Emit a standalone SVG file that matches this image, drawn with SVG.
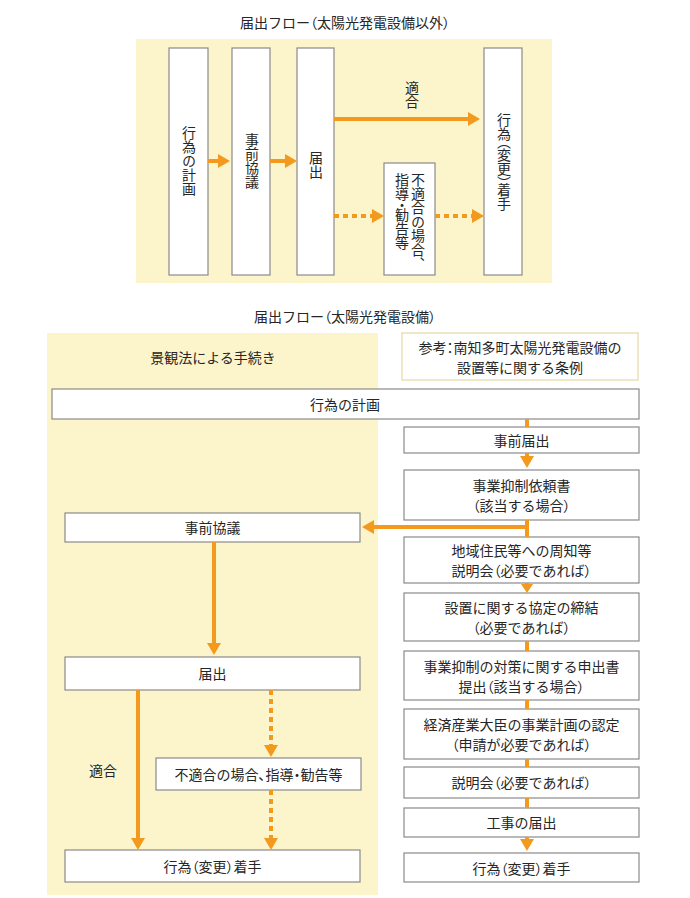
<svg xmlns="http://www.w3.org/2000/svg" width="690" height="898" viewBox="0 0 690 898">
<style>
.panel{fill:#fcf5cb}
.box{fill:#fff;stroke:#8a8a8a;stroke-width:1.2}
.ref{fill:#fff;stroke:#e6d7a6;stroke-width:1.2}
text{font-family:"Noto Sans CJK JP","Noto Sans",sans-serif;font-size:14px;fill:#262626}
.c{text-anchor:middle;dominant-baseline:central}
.v{writing-mode:vertical-rl;text-anchor:middle}
.vs{writing-mode:vertical-rl;text-anchor:start}
.p{font-feature-settings:"palt" 1}
.vp{font-feature-settings:"vpal" 1}
.ln{stroke:#f39a1e;stroke-width:4;fill:none}
.dot{stroke-dasharray:5 4}
</style>
<defs>
<marker id="ah" viewBox="0 0 12 14" markerWidth="12" markerHeight="14" refX="0" refY="7" orient="auto" markerUnits="userSpaceOnUse">
<path d="M0,0 L12,7 L0,14 z" fill="#f39a1e"/>
</marker>
<marker id="as" viewBox="0 0 9 12" markerWidth="9" markerHeight="12" refX="0" refY="6" orient="auto" markerUnits="userSpaceOnUse">
<path d="M0,0 L9,6 L0,12 z" fill="#f39a1e"/>
</marker>
</defs>
<rect width="690" height="898" fill="#fff"/>

<!-- Top section -->
<text class="c" x="345" y="22">届出フロー<tspan class="p">（</tspan>太陽光発電設備以外<tspan class="p">）</tspan></text>
<rect class="panel" x="136" y="39" width="416" height="244"/>

<g id="t-plan"><rect class="box" x="169" y="48" width="39" height="227"/><text class="v" x="189" y="161">行為の計画</text></g>
<g id="t-consult"><rect class="box" x="232" y="48" width="38" height="227"/><text class="v" x="252" y="161">事前協議</text></g>
<g id="t-notify"><rect class="box" x="297" y="48" width="37" height="227"/><text class="v" x="316" y="165">届出</text></g>
<g id="t-noncomp"><rect class="box" x="384" y="163" width="51" height="112"/><text class="vs" x="418" y="173">不適合の場合、</text><text class="vs" x="402" y="173">指導<tspan class="vp">・</tspan>勧告等</text></g>
<g id="t-start"><rect class="box" x="484" y="48" width="38" height="227"/><text class="v" x="504" y="162">行為<tspan class="vp">（</tspan>変更<tspan class="vp">）</tspan>着手</text></g>
<g id="t-label"><text class="v" x="412" y="95">適合</text></g>

<g id="t-connectors">
<path class="ln" d="M208,161 H218" marker-end="url(#ah)"/>
<path class="ln" d="M270,161 H285" marker-end="url(#ah)"/>
<path class="ln" d="M334,119 H468" marker-end="url(#ah)"/>
<path class="ln dot" d="M334,216 H372" marker-end="url(#ah)"/>
<path class="ln dot" d="M435,216 H472" marker-end="url(#ah)"/>
</g>

<!-- Bottom section -->
<text class="c" x="345" y="316">届出フロー<tspan class="p">（</tspan>太陽光発電設備<tspan class="p">）</tspan></text>
<rect class="panel" x="47" y="333" width="331" height="562"/>
<text class="c" x="213" y="357">景観法による手続き</text>

<g id="b-ref"><rect class="ref" x="402" y="333" width="236" height="47"/><text class="c" x="520" y="346.5">参考<tspan class="p">：</tspan>南知多町太陽光発電設備の</text><text class="c" x="520" y="366.5">設置等に関する条例</text></g>
<g id="b-plan"><rect class="box" x="52" y="389" width="587" height="30"/><text class="c" x="345" y="404">行為の計画</text></g>

<g id="r-pre"><rect class="box" x="404" y="427" width="235" height="26"/><text class="c" x="521.5" y="440">事前届出</text></g>
<g id="r-req"><rect class="box" x="404" y="470" width="235" height="50"/><text class="c" x="521.5" y="485">事業抑制依頼書</text><text class="c" x="521.5" y="505"><tspan class="p">（</tspan>該当する場合<tspan class="p">）</tspan></text></g>
<g id="r-brief"><rect class="box" x="404" y="537" width="235" height="46"/><text class="c" x="521.5" y="550">地域住民等への周知等</text><text class="c" x="521.5" y="570">説明会<tspan class="p">（</tspan>必要であれば<tspan class="p">）</tspan></text></g>
<g id="r-agree"><rect class="box" x="404" y="593" width="235" height="48"/><text class="c" x="521.5" y="607">設置に関する協定の締結</text><text class="c" x="521.5" y="627"><tspan class="p">（</tspan>必要であれば<tspan class="p">）</tspan></text></g>
<g id="r-measure"><rect class="box" x="404" y="651" width="235" height="49"/><text class="c" x="521.5" y="665.5">事業抑制の対策に関する申出書</text><text class="c" x="521.5" y="685.5">提出<tspan class="p">（</tspan>該当する場合<tspan class="p">）</tspan></text></g>
<g id="r-meti"><rect class="box" x="404" y="709" width="235" height="50"/><text class="c" x="521.5" y="724">経済産業大臣の事業計画の認定</text><text class="c" x="521.5" y="744"><tspan class="p">（</tspan>申請が必要であれば<tspan class="p">）</tspan></text></g>
<g id="r-meeting"><rect class="box" x="404" y="767" width="235" height="31"/><text class="c" x="521.5" y="782">説明会<tspan class="p">（</tspan>必要であれば<tspan class="p">）</tspan></text></g>
<g id="r-work"><rect class="box" x="404" y="808" width="235" height="29"/><text class="c" x="521.5" y="822">工事の届出</text></g>
<g id="r-start"><rect class="box" x="404" y="853" width="235" height="29"/><text class="c" x="521.5" y="868">行為<tspan class="p">（</tspan>変更<tspan class="p">）</tspan>着手</text></g>

<g id="l-consult"><rect class="box" x="65" y="513" width="295" height="29"/><text class="c" x="212.5" y="527">事前協議</text></g>
<g id="l-notify"><rect class="box" x="65" y="657" width="295" height="33"/><text class="c" x="212.5" y="673">届出</text></g>
<g id="l-noncomp"><rect class="box" x="156" y="758" width="205" height="32"/><text class="c" x="258.5" y="774">不適合の場合<tspan class="p">、</tspan>指導<tspan class="p">・</tspan>勧告等</text></g>
<g id="l-start"><rect class="box" x="65" y="850" width="295" height="32"/><text class="c" x="212.5" y="866">行為<tspan class="p">（</tspan>変更<tspan class="p">）</tspan>着手</text></g>
<g id="l-label"><text class="c" x="103" y="770">適合</text></g>

<g id="b-connectors">
<path class="ln" d="M527,419 V427"/>
<path class="ln" d="M527,453 V456" marker-end="url(#ah)"/>
<path class="ln" d="M527,520 V537"/>
<path class="ln" d="M527,527 H374" marker-end="url(#ah)"/>
<path class="ln" d="M527,583 V584" marker-end="url(#as)"/>
<path class="ln" d="M527,641 V651"/>
<path class="ln" d="M527,700 V709"/>
<path class="ln" d="M527,759 V767"/>
<path class="ln" d="M527,798 V808"/>
<path class="ln" d="M527,837 V839" marker-end="url(#ah)"/>
<path class="ln" d="M214,542 V643" marker-end="url(#ah)"/>
<path class="ln" d="M138,690 V838" marker-end="url(#ah)"/>
<path class="ln dot" d="M271,690 V745" marker-end="url(#ah)"/>
<path class="ln dot" d="M271,790 V838" marker-end="url(#ah)"/>
</g>
</svg>
